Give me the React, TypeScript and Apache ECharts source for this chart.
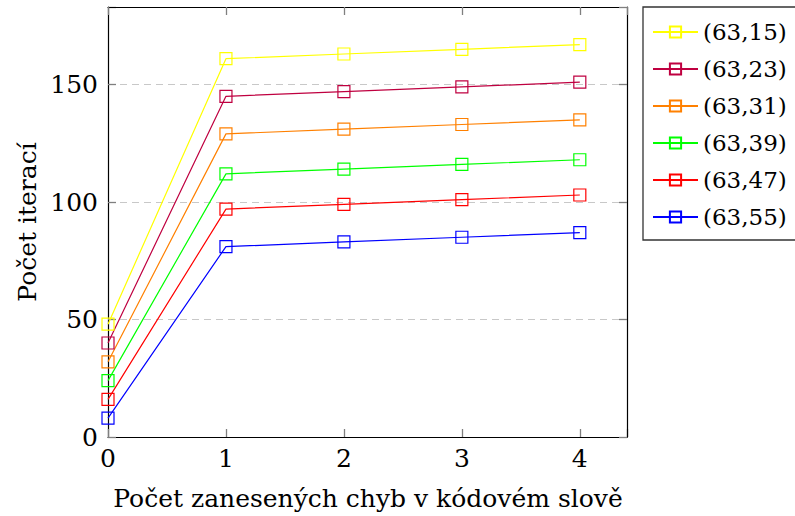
import React, { useEffect, useRef } from "react";
import * as echarts from "echarts";

// Number of injected errors per code word
const errorCounts = [0, 1, 2, 3, 4];

// Iteration counts for each (n,k) code
const seriesNames = ["(63,15)", "(63,23)", "(63,31)", "(63,39)", "(63,47)", "(63,55)"];
const iter_63_15 = [48, 161, 163, 165, 167];
const iter_63_23 = [40, 145, 147, 149, 151];
const iter_63_31 = [32, 129, 131, 133, 135];
const iter_63_39 = [24, 112, 114, 116, 118];
const iter_63_47 = [16, 97, 99, 101, 103];
const iter_63_55 = [8, 81, 83, 85, 87];
const seriesValues = [iter_63_15, iter_63_23, iter_63_31, iter_63_39, iter_63_47, iter_63_55];
const seriesColors = ["#ffff00", "#bf0040", "#ff8000", "#00ff00", "#ff0000", "#0000ff"];

const xTitle = "Počet zanesených chyb v kódovém slově";
const yTitle = "Počet iterací";

const FONT = "DejaVu Serif";

export default function App() {
  const ref = useRef<HTMLDivElement>(null);

  useEffect(() => {
    if (!ref.current) return;
    const chart = echarts.init(ref.current, undefined, { renderer: "svg" });

    const mkLine = () => ({ show: true, onZero: false, lineStyle: { color: "#000", width: 1.2 } });
    const mkTick = () => ({ show: true, inside: true, length: 8, lineStyle: { color: "#7f7f7f", width: 1.3 } });

    const series = seriesNames.map((name, i) => ({
      name,
      type: "line",
      data: errorCounts.map((x, j) => [x, seriesValues[i][j]]),
      symbol: "rect",
      symbolSize: 12,
      showSymbol: true,
      color: seriesColors[i],
      lineStyle: { color: seriesColors[i], width: 1.2 },
      itemStyle: { color: "rgba(255,255,255,0)", borderColor: seriesColors[i], borderWidth: 1.2 },
      emphasis: { disabled: true },
    }));

    chart.setOption({
      animation: false,
      grid: { left: 108, right: 168, top: 7, bottom: 79 },
      xAxis: [
        {
          type: "value",
          min: 0,
          max: 4.4,
          interval: 1,
          axisLine: mkLine(),
          axisTick: mkTick(),
          splitLine: { show: false },
          axisLabel: {
            color: "#000",
            fontFamily: FONT,
            fontSize: 25,
            margin: 9,
            formatter: (v: number) => (Number.isInteger(v) ? String(v) : ""),
          },
        },
        {
          type: "value",
          position: "top",
          min: 0,
          max: 4.4,
          interval: 1,
          z: 5,
          axisLine: mkLine(),
          axisTick: mkTick(),
          splitLine: { show: false },
          axisLabel: { show: false },
        },
      ],
      yAxis: [
        {
          type: "value",
          min: 0,
          max: 183,
          interval: 50,
          axisLine: mkLine(),
          axisTick: mkTick(),
          splitLine: { show: true, lineStyle: { color: "#c8c8c8", width: 1.2, type: [7, 5] } },
          axisLabel: {
            color: "#000",
            fontFamily: FONT,
            fontSize: 25,
            margin: 10,
            formatter: (v: number) => (v % 50 === 0 ? String(v) : ""),
          },
        },
        {
          type: "value",
          position: "right",
          min: 0,
          max: 183,
          interval: 50,
          z: 5,
          axisLine: mkLine(),
          axisTick: mkTick(),
          splitLine: { show: false },
          axisLabel: { show: false },
        },
      ],
      legend: {
        orient: "vertical",
        left: 643,
        top: 7,
        padding: [11, 9, 9, 9],
        itemGap: 9,
        itemWidth: 45,
        itemHeight: 14,
        borderColor: "#333",
        borderWidth: 1.3,
        backgroundColor: "#fff",
        textStyle: { color: "#000", fontFamily: FONT, fontSize: 23, lineHeight: 28 },
        data: seriesNames,
      },
      graphic: [
        {
          type: "text",
          x: 368,
          y: 498,
          style: {
            text: xTitle,
            fontFamily: FONT,
            fontSize: 25,
            fill: "#000",
            align: "center",
            verticalAlign: "middle",
          },
        },
        {
          type: "text",
          x: 27,
          y: 222,
          rotation: Math.PI / 2,
          style: {
            text: yTitle,
            fontFamily: FONT,
            fontSize: 25,
            fill: "#000",
            align: "center",
            verticalAlign: "middle",
          },
        },
      ],
      series,
    });

    return () => chart.dispose();
  }, []);

  return (
    <div
      ref={ref}
      style={{ position: "fixed", left: 0, top: 0, width: 795, height: 516, background: "#fff" }}
    />
  );
}
